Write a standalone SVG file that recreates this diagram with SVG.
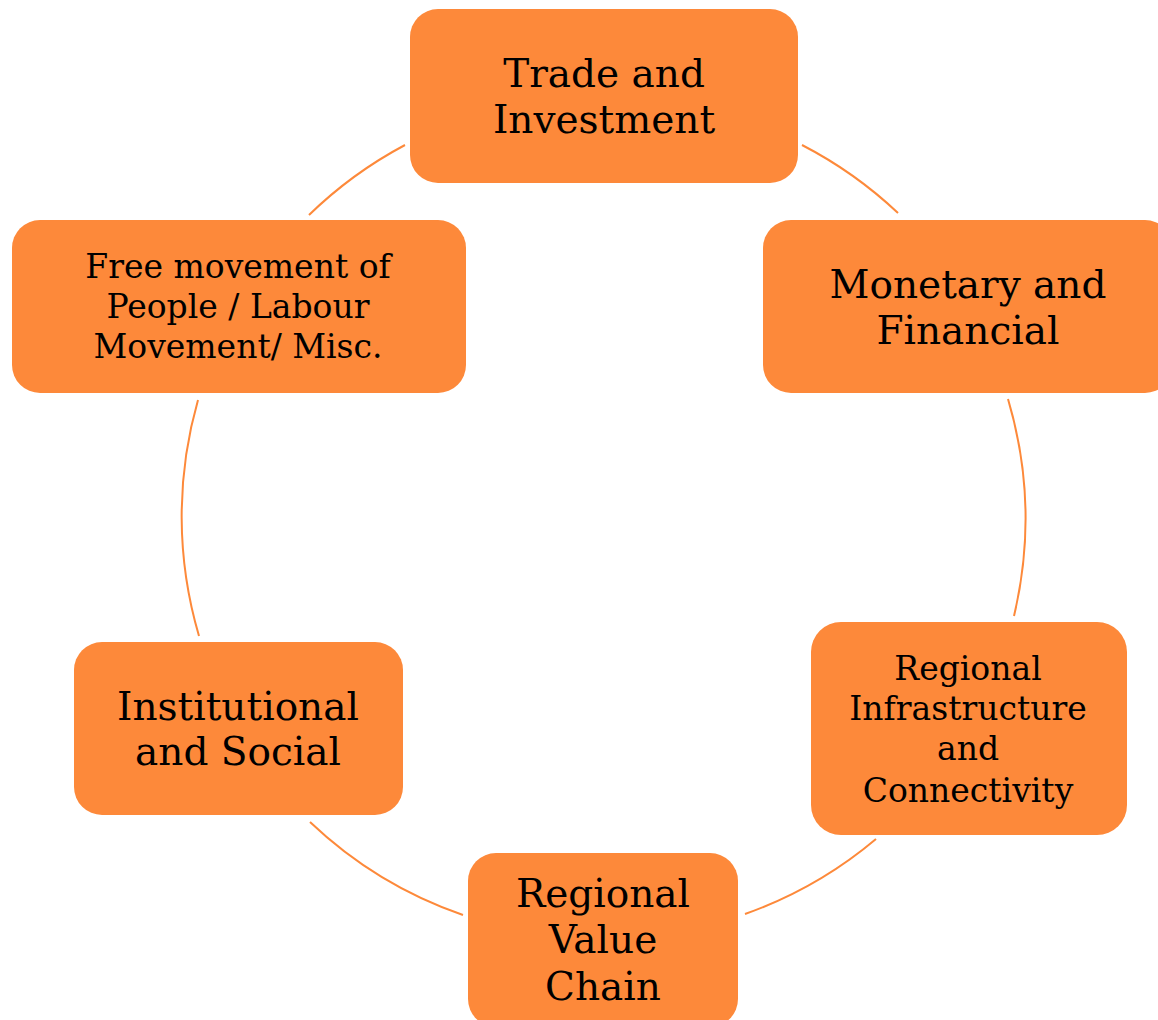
<svg xmlns="http://www.w3.org/2000/svg" width="1158" height="1020" viewBox="0 0 1158 1020">
<style>
.box{fill:#FD893A;}
.t{font-family:"DejaVu Serif","Liberation Serif",serif;fill:#000;text-anchor:middle;}
.big{font-size:39px;}
.sm{font-size:33px;}
.arc{fill:none;stroke:#FD893A;stroke-width:2;}
</style>
<rect width="1158" height="1020" fill="#fff"/>
<g id="connectors">
<path class="arc" d="M309,215 A422,422 0 0 1 405,145"/>
<path class="arc" d="M802,145 A422,422 0 0 1 898,213"/>
<path class="arc" d="M1008,399 A422,422 0 0 1 1014,616"/>
<path class="arc" d="M876,839 A422,422 0 0 1 745,914"/>
<path class="arc" d="M463,915 A422,422 0 0 1 310,822"/>
<path class="arc" d="M199,636 A422,422 0 0 1 198,400"/>
</g>
<g id="node-trade">
<rect class="box" x="410" y="9" width="388" height="174" rx="28"/>
<text class="t big" x="604" y="87">Trade and</text>
<text class="t big" x="604" y="133">Investment</text>
</g>
<g id="node-monetary">
<rect class="box" x="763" y="220" width="410" height="173" rx="28"/>
<text class="t big" x="968" y="298">Monetary and</text>
<text class="t big" x="968" y="344">Financial</text>
</g>
<g id="node-infrastructure">
<rect class="box" x="811" y="622" width="316" height="213" rx="30"/>
<text class="t sm" x="968" y="680">Regional</text>
<text class="t sm" x="968" y="720">Infrastructure</text>
<text class="t sm" x="968" y="760">and</text>
<text class="t sm" x="968" y="802">Connectivity</text>
</g>
<g id="node-value-chain">
<rect class="box" x="468" y="853" width="270" height="174" rx="28"/>
<text class="t big" x="603" y="907">Regional</text>
<text class="t big" x="603" y="953">Value</text>
<text class="t big" x="603" y="1000">Chain</text>
</g>
<g id="node-institutional">
<rect class="box" x="74" y="642" width="329" height="173" rx="28"/>
<text class="t big" x="238" y="720">Institutional</text>
<text class="t big" x="238" y="765">and Social</text>
</g>
<g id="node-free-movement">
<rect class="box" x="12" y="220" width="454" height="173" rx="28"/>
<text class="t sm" x="238" y="278">Free movement of</text>
<text class="t sm" x="238" y="318">People / Labour</text>
<text class="t sm" x="238" y="358">Movement/ Misc.</text>
</g>
</svg>
